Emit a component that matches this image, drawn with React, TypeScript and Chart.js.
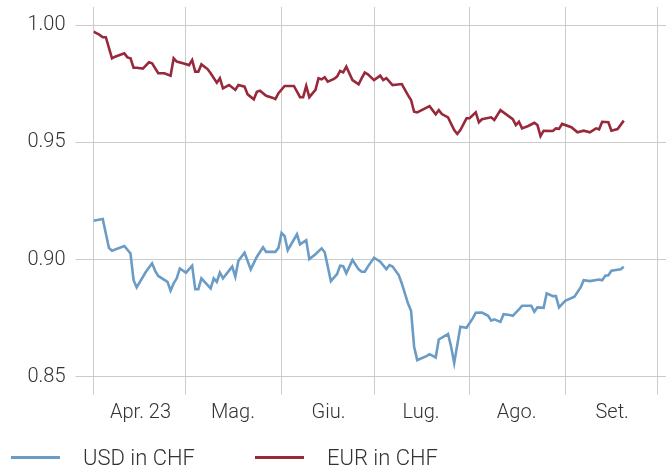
import { useEffect, useRef } from "react";
import { Chart, registerables } from "chart.js";

Chart.register(...registerables);

// Days counted from 1 April 2023
const monthStarts = [0, 30, 61, 91, 122, 153, 183];
const monthLabels = ["Apr. 23", "Mag.", "Giu.", "Lug.", "Ago.", "Set.", ""];
const yTickValues = [0.85, 0.9, 0.95, 1.0];

const usdDays = [
  0, 3, 5, 6, 10, 12, 13, 14, 17, 19, 20, 21, 24, 25, 26, 27, 28, 30, 32, 33, 34, 35, 38, 39, 40, 41, 42, 45, 46, 47, 49,
  51, 53, 55, 56, 59, 60, 61, 62, 63, 66, 67, 69, 70, 72, 74, 75, 77, 79, 80, 81, 82, 84, 86, 87, 88, 89, 91, 93, 95,
  96, 97, 99, 100, 102, 103, 104, 105, 108, 109, 111, 112, 115, 116, 117, 119, 121, 123, 124, 126, 128, 129, 130, 132,
  133, 135, 136, 138, 139, 142, 143, 144, 146, 147, 149, 150, 151, 153, 156, 158, 159, 161, 164, 165, 166, 167, 168,
  171, 172,
];
const usdValues = [
  0.9166, 0.9173, 0.905, 0.9038, 0.9058, 0.9026, 0.8912, 0.8881, 0.8948, 0.8984, 0.8952, 0.893, 0.8905, 0.8867, 0.8898,
  0.892, 0.8962, 0.8944, 0.8974, 0.8873, 0.8873, 0.892, 0.8877, 0.892, 0.8905, 0.8945, 0.892, 0.897, 0.8927, 0.8995,
  0.9029, 0.8958, 0.9012, 0.9052, 0.9033, 0.9033, 0.905, 0.9114, 0.91, 0.904, 0.9108, 0.9065, 0.9083, 0.9002, 0.9023,
  0.9048, 0.9031, 0.8908, 0.8938, 0.8974, 0.8972, 0.8941, 0.8998, 0.8958, 0.8948, 0.8948, 0.897, 0.9008, 0.8991,
  0.8959, 0.8976, 0.897, 0.8934, 0.8898, 0.8813, 0.8781, 0.8628, 0.8571, 0.8588, 0.8596, 0.8582, 0.8659, 0.8682,
  0.8628, 0.8559, 0.8713, 0.8709, 0.8749, 0.8773, 0.8774, 0.876, 0.8739, 0.8745, 0.8734, 0.8767, 0.8763, 0.876,
  0.8787, 0.8803, 0.8803, 0.8777, 0.8796, 0.8794, 0.8856, 0.8844, 0.8844, 0.8796, 0.8824, 0.8841, 0.8881, 0.8912,
  0.8908, 0.8915, 0.8912, 0.8931, 0.8933, 0.8952, 0.8959, 0.8969,
];

const eurDays = [
  0, 2, 3, 4, 6, 7, 10, 11, 12, 13, 14, 16, 18, 19, 21, 23, 25, 26, 27, 29, 31, 32, 33, 34, 35, 37, 38, 40, 41, 42, 43,
  44, 46, 47, 49, 50, 52, 53, 54, 56, 58, 59, 60, 62, 65, 67, 68, 69, 70, 72, 73, 74, 75, 76, 78, 79, 80, 81, 82, 84,
  86, 87, 88, 89, 91, 93, 94, 95, 97, 100, 102, 103, 104, 105, 109, 111, 112, 113, 115, 117, 118, 119, 121, 122, 124,
  125, 126, 129, 130, 132, 136, 137, 138, 139, 141, 143, 144, 145, 146, 149, 150, 151, 152, 155, 157, 159, 161, 163,
  164, 165, 167, 168, 170, 172,
];
const eurValues = [
  0.9973, 0.9959, 0.9949, 0.9949, 0.9859, 0.9866, 0.988, 0.9863, 0.9859, 0.9819, 0.9819, 0.9815, 0.9842, 0.9838,
  0.9795, 0.9795, 0.9785, 0.9859, 0.9845, 0.9838, 0.983, 0.9852, 0.9802, 0.9802, 0.9833, 0.9813, 0.9795, 0.9755,
  0.9774, 0.9731, 0.9738, 0.9745, 0.9724, 0.9745, 0.9738, 0.9705, 0.9684, 0.9716, 0.9721, 0.9699, 0.9691, 0.9685,
  0.971, 0.9741, 0.9741, 0.9693, 0.9693, 0.9741, 0.9693, 0.9724, 0.9774, 0.9769, 0.9778, 0.9759, 0.9771, 0.9781,
  0.9805, 0.9799, 0.9823, 0.9766, 0.9748, 0.9774, 0.9798, 0.9791, 0.9766, 0.9785, 0.9766, 0.9774, 0.9745, 0.9749,
  0.9702, 0.9681, 0.9631, 0.9628, 0.9655, 0.962, 0.9638, 0.9621, 0.9607, 0.9553, 0.9536, 0.9553, 0.9603, 0.9603,
  0.9628, 0.9586, 0.9599, 0.9607, 0.9596, 0.9638, 0.9599, 0.9574, 0.9588, 0.956, 0.957, 0.9584, 0.9574, 0.9527,
  0.955, 0.9549, 0.956, 0.9558, 0.9579, 0.9565, 0.9543, 0.955, 0.9543, 0.956, 0.9556, 0.9588, 0.9586, 0.955, 0.9557,
  0.9593,
];

const seriesNames = ["USD in CHF", "EUR in CHF"];
const seriesColors = ["#6a9cc6", "#98293b"];

const W = 666;
const H = 468;
const FONT = "Roboto";
const TEXT = "#333333";
const GRID = "#cbcbcb";

export default function App() {
  const ref = useRef<HTMLCanvasElement>(null);

  useEffect(() => {
    if (!ref.current) return;

    const legendPlugin = {
      id: "lineLegend",
      afterDraw(chart: any) {
        const ctx = chart.ctx;
        const starts = [11, 255];
        ctx.save();
        chart.data.datasets.forEach((ds: any, i: number) => {
          const x0 = starts[i];
          ctx.strokeStyle = ds.borderColor;
          ctx.lineWidth = 3;
          ctx.beginPath();
          ctx.moveTo(x0, 457.5);
          ctx.lineTo(x0 + 49, 457.5);
          ctx.stroke();
          ctx.fillStyle = TEXT;
          ctx.font = `300 22px ${FONT}`;
          ctx.textBaseline = "alphabetic";
          ctx.textAlign = "left";
          ctx.fillText(ds.label, x0 + 72, 465);
        });
        ctx.restore();
      },
    };

    const chart = new Chart(ref.current, {
      type: "line",
      data: {
        datasets: [
          {
            label: seriesNames[0],
            data: usdDays.map((d, i) => ({ x: d, y: usdValues[i] })),
            borderColor: seriesColors[0],
            backgroundColor: seriesColors[0],
            borderWidth: 2.6,
            pointRadius: 0,
            tension: 0,
          },
          {
            label: seriesNames[1],
            data: eurDays.map((d, i) => ({ x: d, y: eurValues[i] })),
            borderColor: seriesColors[1],
            backgroundColor: seriesColors[1],
            borderWidth: 2.6,
            pointRadius: 0,
            tension: 0,
          },
        ],
      },
      options: {
        animation: false,
        responsive: false,
        maintainAspectRatio: false,
        layout: { padding: { top: 7, left: 0, right: 0, bottom: 0 } },
        plugins: {
          legend: { display: false },
          tooltip: { enabled: false },
        },
        scales: {
          x: {
            type: "linear",
            min: 0,
            max: 185.7,
            border: { display: false },
            grid: { color: GRID, lineWidth: 1, drawTicks: true, tickLength: 18 },
            afterBuildTicks: (scale: any) => {
              scale.ticks = monthStarts.map((v) => ({ value: v }));
            },
            afterFit: (scale: any) => {
              scale.height = 91.3;
              scale.paddingLeft = 0;
              scale.paddingRight = 0;
            },
            ticks: {
              autoSkip: false,
              maxRotation: 0,
              minRotation: 0,
              labelOffset: 47,
              padding: 6,
              color: TEXT,
              font: { family: FONT, size: 20, weight: "300" as any },
              callback: (v: any) => {
                const idx = monthStarts.indexOf(Number(v));
                return idx >= 0 ? monthLabels[idx] : "";
              },
            },
          },
          y: {
            type: "linear",
            min: 0.85,
            max: 1.0078,
            border: { display: false },
            grid: { color: GRID, lineWidth: 1, drawTicks: true, tickLength: 18 },
            afterBuildTicks: (scale: any) => {
              scale.ticks = yTickValues.map((v) => ({ value: v }));
            },
            afterFit: (scale: any) => {
              scale.width = 93.5;
              scale.paddingTop = 0;
              scale.paddingBottom = 0;
            },
            ticks: {
              padding: 10,
              color: TEXT,
              font: { family: FONT, size: 20, weight: "300" as any },
              callback: (v: any) => Number(v).toFixed(2),
            },
          },
        },
      },
      plugins: [legendPlugin],
    });

    return () => chart.destroy();
  }, []);

  return (
    <div style={{ position: "absolute", left: 0, top: 0, width: W, height: H }}>
      <canvas ref={ref} width={W} height={H} style={{ display: "block", width: W, height: H }} />
    </div>
  );
}
